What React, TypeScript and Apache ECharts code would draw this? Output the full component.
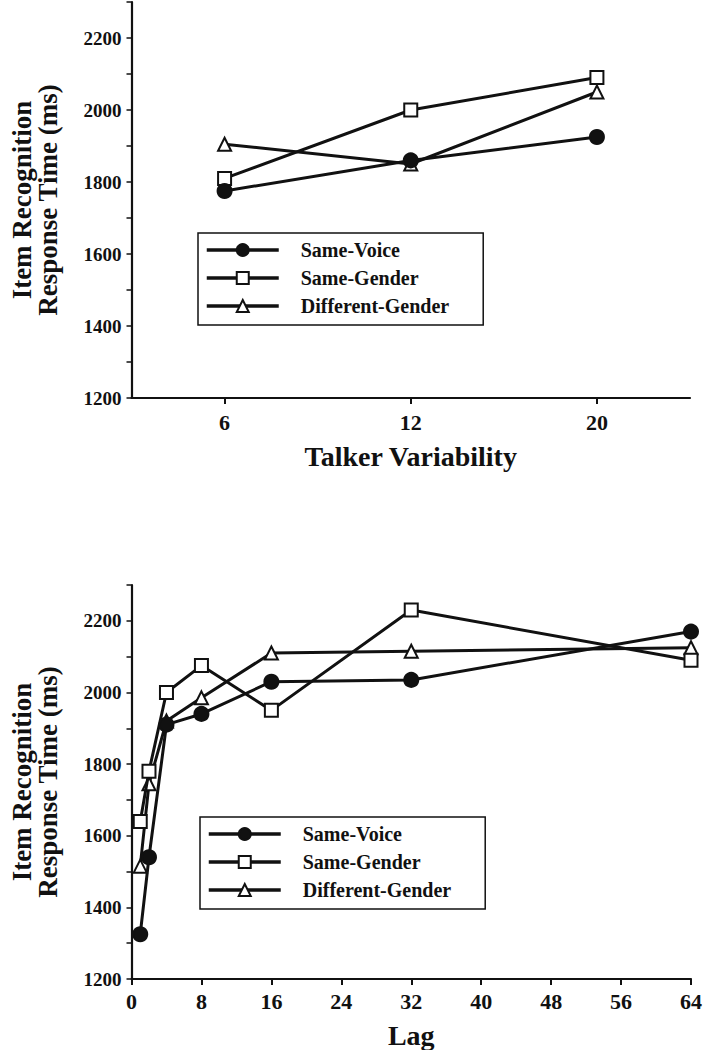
import React, { useEffect, useRef } from "react";
import * as echarts from "echarts";

const seriesNames = ["Same-Voice", "Same-Gender", "Different-Gender"];

// Top panel: Talker variability (categorical)
const talkerCategories = ["6", "12", "20"];
const talkerSameVoice = [1775, 1860, 1925];
const talkerSameGender = [1810, 2000, 2090];
const talkerDiffGender = [1905, 1850, 2050];

// Bottom panel: Lag
const lags = [1, 2, 4, 8, 16, 32, 64];
const lagSameVoice = [1325, 1540, 1910, 1940, 2030, 2035, 2170];
const lagSameGender = [1640, 1780, 2000, 2075, 1950, 2230, 2090];
const lagDiffGender = [1515, 1745, 1920, 1985, 2110, 2115, 2125];

const yMin = 1200;
const yMax = 2300;

const FONT = "Liberation Serif";
const INK = "#111";

const symbols = ["circle", "rect", "triangle"];
const fills = [INK, "#fff", "#fff"];

export default function App() {
  const ref = useRef<HTMLDivElement>(null);

  useEffect(() => {
    if (!ref.current) return;
    const chart = echarts.init(ref.current, null, { renderer: "svg" });

    const yAxisCommon = (gridIndex: number) => ({
      type: "value",
      gridIndex,
      min: yMin,
      max: yMax,
      interval: 100,
      name: "Item Recognition\nResponse Time (ms)",
      nameLocation: "middle",
      nameRotate: 90,
      nameGap: 71,
      nameTextStyle: {
        fontFamily: FONT,
        fontWeight: "bold",
        fontSize: 27,
        lineHeight: 26,
        color: INK,
      },
      splitLine: { show: false },
      axisLine: { show: true, lineStyle: { color: INK, width: 2.2 } },
      axisTick: { show: true, length: 5, lineStyle: { color: INK, width: 1.5 } },
      axisLabel: {
        fontFamily: FONT,
        fontWeight: "bold",
        fontSize: 19,
        color: INK,
        margin: 10,
        formatter: (v: number) =>
          (v - yMin) % 200 === 0 && v <= 2200 ? String(v) : "",
      },
    });

    const lineSeries = (
      name: string,
      idx: number,
      data: any[],
      axisIndex: number
    ) => ({
      type: "line",
      name,
      xAxisIndex: axisIndex,
      yAxisIndex: axisIndex,
      data,
      symbol: symbols[idx],
      symbolSize: idx === 0 ? 14 : 13,
      showSymbol: true,
      lineStyle: { color: INK, width: 3 },
      itemStyle: { color: fills[idx], borderColor: INK, borderWidth: 2 },
      z: 3 - idx,
    });

    const legendCommon = {
      orient: "vertical",
      data: seriesNames,
      itemWidth: 72,
      itemHeight: 15,
      itemGap: 8,
      padding: [7, 34, 9, 7],
      borderColor: INK,
      borderWidth: 1.5,
      backgroundColor: "#fff",
      selectedMode: false,
      lineStyle: { width: 3.5, color: INK },
      textStyle: {
        fontFamily: FONT,
        fontWeight: "bold",
        fontSize: 20,
        color: INK,
        lineHeight: 20,
        padding: [0, 0, 0, 17],
      },
    };

    chart.setOption({
      animation: false,
      backgroundColor: "#fff",
      grid: [
        { left: 124, right: 15, top: 2, height: 396 },
        { left: 126, right: 14, top: 585, height: 395 },
      ],
      legend: [
        { ...legendCommon, left: 198, top: 233 },
        { ...legendCommon, left: 200, top: 817 },
      ],
      xAxis: [
        {
          type: "category",
          gridIndex: 0,
          data: talkerCategories,
          boundaryGap: true,
          name: "Talker Variability",
          nameLocation: "middle",
          nameGap: 44,
          nameTextStyle: {
            fontFamily: FONT,
            fontWeight: "bold",
            fontSize: 28,
            color: INK,
          },
          axisLine: { show: true, lineStyle: { color: INK, width: 2.2 } },
          axisTick: {
            show: true,
            alignWithLabel: true,
            length: 6,
            lineStyle: { color: INK, width: 2 },
          },
          axisLabel: {
            fontFamily: FONT,
            fontWeight: "bold",
            fontSize: 22,
            color: INK,
            margin: 13,
          },
          splitLine: { show: false },
        },
        {
          type: "value",
          gridIndex: 1,
          min: 0,
          max: 64,
          interval: 8,
          name: "Lag",
          nameLocation: "middle",
          nameGap: 42,
          nameTextStyle: {
            fontFamily: FONT,
            fontWeight: "bold",
            fontSize: 28,
            color: INK,
          },
          axisLine: { show: true, lineStyle: { color: INK, width: 2.2 } },
          axisTick: { show: true, length: 6, lineStyle: { color: INK, width: 2 } },
          axisLabel: {
            fontFamily: FONT,
            fontWeight: "bold",
            fontSize: 22,
            color: INK,
            margin: 11,
          },
          splitLine: { show: false },
        },
      ],
      yAxis: [yAxisCommon(0), yAxisCommon(1)],
      series: [
        lineSeries(seriesNames[0], 0, talkerSameVoice, 0),
        lineSeries(seriesNames[1], 1, talkerSameGender, 0),
        lineSeries(seriesNames[2], 2, talkerDiffGender, 0),
        lineSeries(seriesNames[0], 0, lags.map((l, i) => [l, lagSameVoice[i]]), 1),
        lineSeries(seriesNames[1], 1, lags.map((l, i) => [l, lagSameGender[i]]), 1),
        lineSeries(seriesNames[2], 2, lags.map((l, i) => [l, lagDiffGender[i]]), 1),
      ],
    });

    return () => chart.dispose();
  }, []);

  return (
    <div
      ref={ref}
      style={{ position: "fixed", left: 0, top: 0, width: 705, height: 1050, background: "#fff" }}
    />
  );
}
